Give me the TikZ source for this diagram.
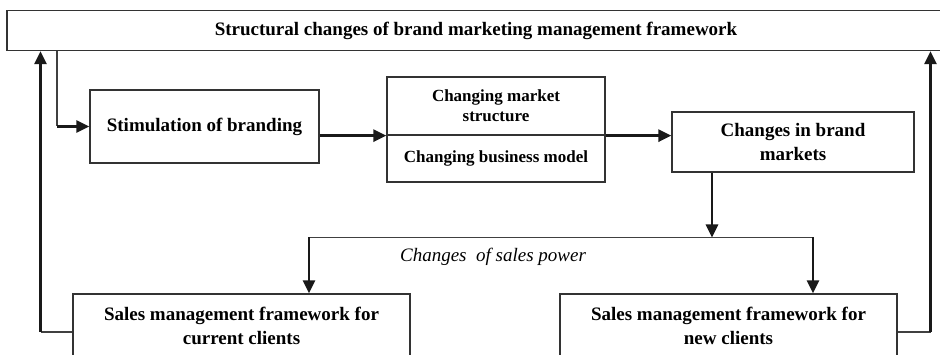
\documentclass[tikz,border=0pt]{standalone}
\usepackage{fontspec}
\setmainfont{Liberation Serif}
\usetikzlibrary{arrows.meta}
\tikzset{
  box/.style={draw=black!80, line width=1.3pt, align=center, inner sep=0pt,
    font=\fontsize{19}{23.5}\selectfont\bfseries},
  midbox/.style={box, font=\fontsize{17}{20}\selectfont\bfseries},
  thinline/.style={draw=black!75, line width=1.3pt},
  arr/.style={draw=black!90, line width=2.8pt, -{Triangle[length=13pt,width=12pt]}},
  lbl/.style={font=\fontsize{19}{23}\selectfont\itshape, inner sep=0pt}
}
\begin{document}
\begin{tikzpicture}[x=1pt,y=-1pt]
\useasboundingbox (0,0) rectangle (940,355);
\clip (0,0) rectangle (940,355);
\fill[white] (0,0) rectangle (940,355);
% nodes
\node[box, minimum width=938pt, minimum height=40pt] (top) at (476,30.5) {Structural changes of brand marketing management framework};
\node[box, minimum width=229pt, minimum height=73pt] (stim) at (204.5,126.5) {Stimulation of branding};
\node[midbox, minimum width=218pt, minimum height=58pt] (midtop) at (496,106) {Changing market\\structure};
\node[midbox, minimum width=218pt, minimum height=47pt] (midbot) at (496,158.5) {Changing business model};
\node[box, minimum width=242pt, minimum height=60pt] (chg) at (793,142) {Changes in brand\\markets};
\node[box, minimum width=337pt, minimum height=64pt] (cur) at (241.5,326) {Sales management framework for\\current clients};
\node[box, minimum width=337pt, minimum height=64pt] (new) at (728.5,326) {Sales management framework for\\new clients};
\node[lbl] (pow) at (493,257) {Changes\ \ of sales power};
% coordinates
\coordinate (lfb) at (40.5,332);
\coordinate (rfb) at (930.5,332);
\coordinate (a1) at (57,126.5);
\coordinate (split) at (712,237.5);
\coordinate (sl) at (309,237.5);
\coordinate (sr) at (813,237.5);
% connectors
\draw[thinline] (a1 |- top.south) -- (a1);
\draw[arr] (a1) -- (stim.west);
\draw[arr] (stim.east |- midtop.south) -- (midtop.south west);
\draw[arr] (midtop.south east) -- (midtop.south east -| chg.west);
\draw[arr] (chg.south -| split) -- (split);
\draw[thinline] (sl) -- (sr);
\draw[arr] (sl) -- (sl |- cur.north);
\draw[arr] (sr) -- (sr |- new.north);
\draw[thinline] (lfb -| cur.west) -- (lfb);
\draw[arr] (lfb) -- (lfb |- top.south);
\draw[thinline] (rfb -| new.east) -- (rfb);
\draw[arr] (rfb) -- (rfb |- top.south);
\end{tikzpicture}
\end{document}
